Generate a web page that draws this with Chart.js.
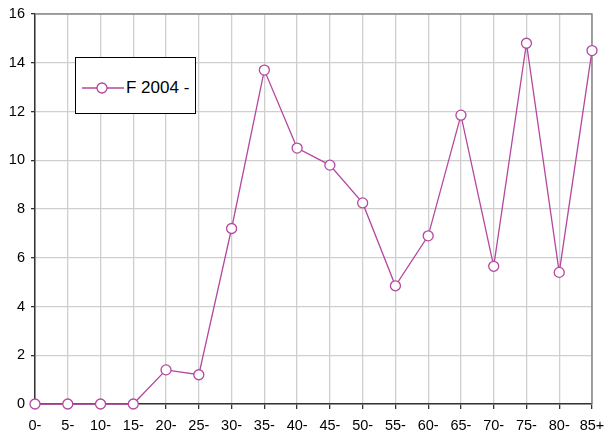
<!DOCTYPE html>
<html><head><meta charset="utf-8">
<script src="https://cdn.jsdelivr.net/npm/chart.js@4/dist/chart.umd.min.js"></script>
<style>
html,body{margin:0;padding:0;background:#fff;}
#wrap{position:relative;width:606px;height:437px;}
#legend{position:absolute;left:75px;top:57px;width:119px;height:55px;border:1px solid #000;background:#fff;box-sizing:content-box;font-family:"Liberation Sans",Arial,sans-serif;font-size:17px;line-height:20px;color:#000;}
#legend svg{position:absolute;left:6px;top:23px;}
#legend span{position:absolute;left:50px;top:20px;white-space:nowrap;}
</style></head>
<body><div id="wrap"><canvas id="c" width="606" height="437"></canvas>
<div id="legend"><svg width="42" height="14"><line x1="0" y1="7" x2="42" y2="7" stroke="#b5479f" stroke-width="1.3"/><circle cx="20" cy="7" r="5" fill="#fff" stroke="#b5479f" stroke-width="1.3"/></svg><span>F 2004 -</span></div>
</div>
<script>
const categories = ['0-','5-','10-','15-','20-','25-','30-','35-','40-','45-','50-','55-','60-','65-','70-','75-','80-','85+'];
const seriesName = 'F 2004 -';
const values = [0,0,0,0,1.4,1.2,7.2,13.7,10.5,9.8,8.25,4.85,6.9,11.85,5.65,14.8,5.4,14.5];
const yTicks = [0,2,4,6,8,10,12,14,16];
const color = '#b5479f';

const frame = {
  id:'frame',
  beforeDatasetsDraw(chart){
    const a = chart.chartArea, ctx = chart.ctx;
    ctx.save();
    ctx.strokeStyle = '#888';
    ctx.lineWidth = 1.5;
    ctx.beginPath();
    ctx.moveTo(a.left, a.top); ctx.lineTo(a.right, a.top); ctx.lineTo(a.right, a.bottom);
    ctx.stroke();
    ctx.restore();
  }
};

new Chart(document.getElementById('c'), {
  type:'line',
  data:{labels:categories, datasets:[{label:seriesName, data:values, borderColor:color, borderWidth:1.3, backgroundColor:'#fff', pointBackgroundColor:'#fff', pointBorderColor:color, pointBorderWidth:1.3, pointRadius:5, tension:0, clip:false}]},
  options:{
    responsive:false, animation:false,
    layout:{padding:{top:14,right:14,left:0,bottom:0}},
    plugins:{legend:{display:false}, tooltip:{enabled:false}},
    scales:{
      x:{offset:false,
        grid:{color:'#cfcfcf', lineWidth:1.3, tickLength:5, tickColor:'#333', offset:false},
        border:{color:'#333', width:1.5},
        ticks:{color:'#000', font:{family:'"Liberation Sans", Arial, sans-serif', size:14.5}, padding:8, maxRotation:0, autoSkip:false},
        afterFit(s){s.height=33; s.paddingLeft=0; s.paddingRight=0;}
      },
      y:{min:0,max:16,
        afterBuildTicks(s){s.ticks = yTicks.map(v=>({value:v}));},
        grid:{color:'#cfcfcf', lineWidth:1.3, tickLength:4, tickColor:'#333'},
        border:{color:'#333', width:1.5},
        ticks:{color:'#000', font:{family:'"Liberation Sans", Arial, sans-serif', size:14.5}, padding:6},
        afterFit(s){s.width=35; s.paddingTop=0; s.paddingBottom=0;}
      }
    }
  },
  plugins:[frame]
});
</script></body></html>
